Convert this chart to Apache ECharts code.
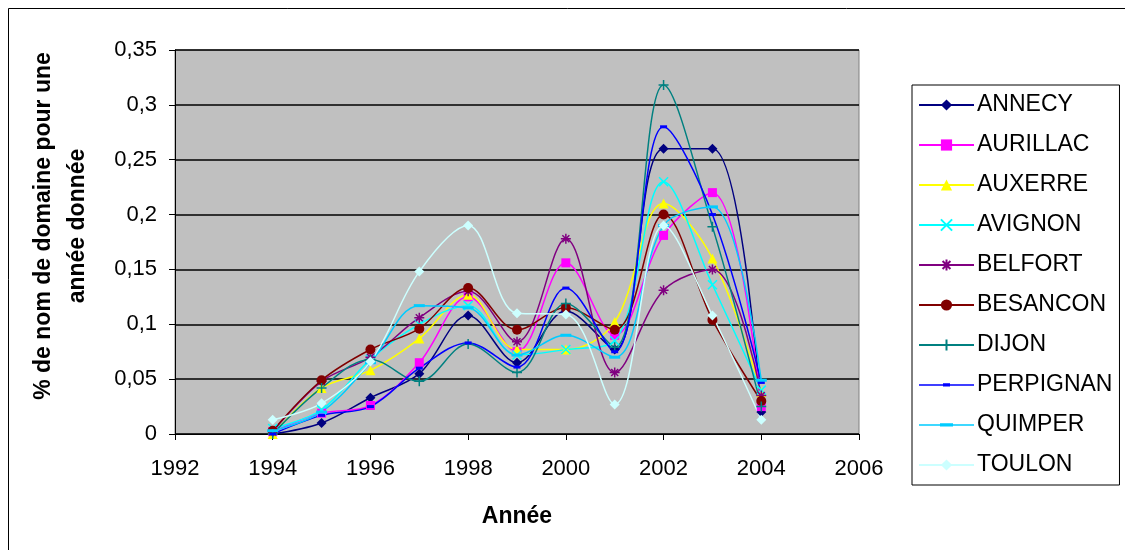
<!DOCTYPE html>
<html><head><meta charset="utf-8">
<script src="https://cdn.jsdelivr.net/npm/echarts@6/dist/echarts.min.js"></script>
<style>html,body{margin:0;padding:0;background:#fff}#c{width:1125px;height:550px}</style>
</head><body><div id="c"></div>
<script>
const years = [1994,1995,1996,1997,1998,1999,2000,2001,2002,2003,2004];
const ANNECY    = [0.000,0.010,0.033,0.055,0.108,0.065,0.112,0.077,0.260,0.260,0.020];
const AURILLAC  = [0.002,0.019,0.026,0.065,0.125,0.075,0.156,0.090,0.181,0.220,0.025];
const AUXERRE   = [0.000,0.042,0.058,0.087,0.127,0.077,0.077,0.102,0.210,0.160,0.038];
const AVIGNON   = [0.005,0.022,0.068,0.100,0.117,0.072,0.077,0.085,0.230,0.136,0.040];
const BELFORT   = [0.002,0.048,0.070,0.106,0.130,0.084,0.178,0.056,0.131,0.150,0.035];
const BESANCON  = [0.003,0.049,0.077,0.096,0.133,0.095,0.115,0.095,0.200,0.104,0.030];
const DIJON     = [0.000,0.042,0.068,0.048,0.082,0.056,0.119,0.079,0.318,0.189,0.025];
const PERPIGNAN = [0.000,0.017,0.025,0.060,0.083,0.061,0.133,0.075,0.280,0.200,0.047];
const QUIMPER   = [0.003,0.020,0.065,0.117,0.115,0.072,0.090,0.070,0.190,0.207,0.049];
const TOULON    = [0.013,0.028,0.066,0.148,0.190,0.110,0.109,0.027,0.190,0.108,0.013];
const names = ['ANNECY','AURILLAC','AUXERRE','AVIGNON','BELFORT','BESANCON','DIJON','PERPIGNAN','QUIMPER','TOULON'];
const values = [ANNECY,AURILLAC,AUXERRE,AVIGNON,BELFORT,BESANCON,DIJON,PERPIGNAN,QUIMPER,TOULON];
const colors = ['#000080','#FF00FF','#FFFF00','#00FFFF','#800080','#800000','#008080','#0000FF','#00CCFF','#CCFFFF'];
const symbols = [
  {s:'diamond', z:10, stroke:false},
  {s:'rect', z:9, stroke:false},
  {s:'triangle', z:10, stroke:false},
  {s:'path://M0,0L10,10M10,0L0,10', z:9, stroke:true},
  {s:'path://M5,0L5,10M0,5L10,5M1.5,1.5L8.5,8.5M8.5,1.5L1.5,8.5', z:10, stroke:true},
  {s:'circle', z:10, stroke:false},
  {s:'path://M5,0L5,10M0,5L10,5', z:10, stroke:true},
  {s:'path://M0,0L8,0L8,3L0,3Z', z:[7,3], stroke:false},
  {s:'path://M0,0L12,0L12,3L0,3Z', z:[11,3], stroke:false},
  {s:'diamond', z:10, stroke:false}
];
const legendIcons = {
  PERPIGNAN:'path://M0,0h0.01v0.01h-0.01zM54.99,13.99h0.01v0.01h-0.01zM0,6.3h55v1.4h-55zM24,5.2h7v3.4h-7z',
  QUIMPER:'path://M0,0h0.01v0.01h-0.01zM54.99,13.99h0.01v0.01h-0.01zM0,6.3h55v1.4h-55zM21,5.2h13v3.4h-13z'
};
const font = '"Liberation Sans", Arial, sans-serif';
const series = names.map((n,i)=>({
  name:n, type:'line', smooth:0.35,
  data: years.map((y,j)=>[y, values[i][j]]),
  symbol: symbols[i].s, symbolSize: symbols[i].z, showSymbol:true,
  color: colors[i],
  lineStyle:{color:colors[i], width:1.5},
  itemStyle: symbols[i].stroke ? {color:colors[i], borderColor:colors[i], borderWidth:1.5} : {color:colors[i], borderWidth:0},
  emphasis:{disabled:true}, animation:false
}));
const chart = echarts.init(document.getElementById('c'));
chart.setOption({
  animation:false,
  backgroundColor:'#fff',
  graphic:[
    {type:'rect', shape:{x:8.5,y:8.5,width:1130,height:560}, style:{fill:null, stroke:'#000', lineWidth:1}, silent:true},
    {type:'text', x:61, y:226, rotation:Math.PI/2, silent:true,
     style:{text:'% de nom de domaine pour une\nannée donnée', align:'center', verticalAlign:'middle',
            font:'bold 23px "Liberation Sans", Arial, sans-serif', lineHeight:34, fill:'#000'}}
  ],
  grid:{left:175, right:266, top:50, bottom:116, show:true, backgroundColor:'#C0C0C0', borderColor:'#808080', borderWidth:1},
  xAxis:{type:'value', min:1992, max:2006, interval:2,
    name:'Année', nameLocation:'middle', nameGap:71,
    nameTextStyle:{fontFamily:font, fontSize:23, fontWeight:'bold', color:'#000'},
    axisLine:{show:true, onZero:false, lineStyle:{color:'#000', width:1}},
    axisTick:{show:true, length:6, lineStyle:{color:'#000'}},
    axisLabel:{fontFamily:font, fontSize:22, color:'#000', margin:24, formatter:v=>String(v)},
    splitLine:{show:false}},
  yAxis:{type:'value', min:0, max:0.35, interval:0.05,
    axisLine:{show:true, lineStyle:{color:'#000', width:1}},
    axisTick:{show:true, length:6, lineStyle:{color:'#000'}},
    axisLabel:{fontFamily:font, fontSize:22, color:'#000', margin:18,
      formatter:v=>String(Math.round(v*100)/100).replace('.',',')},
    splitLine:{show:true, lineStyle:{color:'#000', width:1.5}}},
  legend:{orient:'vertical', left:912, top:85,
    padding:[8,7,8,6], itemGap:16, itemWidth:55, itemHeight:14,
    borderColor:'#000', borderWidth:1, backgroundColor:'#fff',
    textStyle:{fontFamily:font, fontSize:23, color:'#000', lineHeight:24, padding:[0,0,0,-2]},
    data:names.map(n=>legendIcons[n]?{name:n, icon:legendIcons[n]}:n)},
  series:series
});
</script></body></html>
